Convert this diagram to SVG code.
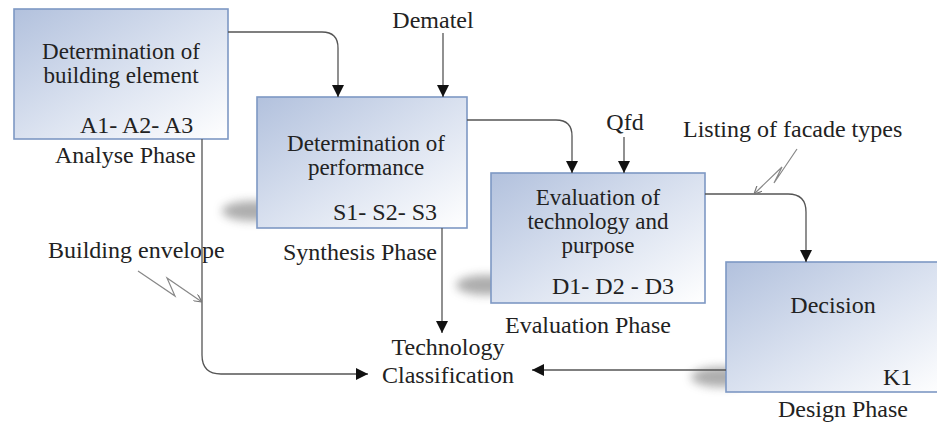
<svg xmlns="http://www.w3.org/2000/svg" width="937" height="427" viewBox="0 0 937 427">
<defs>
<linearGradient id="bx" x1="0" y1="0" x2="1" y2="1">
<stop offset="0" stop-color="#b2c1dd"/>
<stop offset="0.55" stop-color="#dde4f1"/>
<stop offset="1" stop-color="#ffffff"/>
</linearGradient>
<filter id="blur" x="-50%" y="-100%" width="200%" height="300%"><feGaussianBlur stdDeviation="5"/></filter>
<marker id="ah" markerUnits="userSpaceOnUse" markerWidth="12" markerHeight="14" refX="12" refY="6" orient="auto" viewBox="0 0 12 12">
<path d="M0,0 L12,6 L0,12 z" fill="#111"/>
</marker>
<marker id="oa" markerUnits="userSpaceOnUse" markerWidth="8" markerHeight="8" refX="8" refY="4" orient="auto" viewBox="0 0 8 8">
<path d="M0,0 L8,4 L0,8" fill="none" stroke="#777" stroke-width="1.2"/>
</marker>
</defs>
<style>
.box{fill:url(#bx);stroke:#7d98c4;stroke-width:1.6}
.sh{fill:#6a6a6a;opacity:0.55;filter:url(#blur)}
.t{font-family:"Liberation Serif","Times New Roman",serif;font-size:24px;fill:#222}
.m{font-size:23px}
.c{stroke:#555;stroke-width:1.3;fill:none}
.z{stroke:#888;stroke-width:1.2;fill:none}
</style>
<rect width="937" height="427" fill="#fff"/>

<g id="nodeA">
<rect class="box" x="14" y="9" width="214" height="130"/>
<text class="t m" x="121" y="59" text-anchor="middle">Determination of</text>
<text class="t m" x="121" y="83" text-anchor="middle">building element</text>
<text class="t" x="80" y="133">A1- A2- A3</text>
<text class="t" x="55" y="163">Analyse Phase</text>
</g>

<g id="nodeS">
<ellipse class="sh" cx="252" cy="211" rx="30" ry="10"/>
<rect class="box" x="257" y="97" width="210" height="131"/>
<text class="t m" x="366" y="151" text-anchor="middle">Determination of</text>
<text class="t m" x="366" y="175" text-anchor="middle">performance</text>
<text class="t" x="333" y="220">S1- S2- S3</text>
<text class="t" x="283" y="260">Synthesis Phase</text>
</g>

<g id="nodeD">
<ellipse class="sh" cx="486" cy="285" rx="30" ry="10"/>
<rect class="box" x="491" y="173" width="214" height="130"/>
<text class="t m" x="598" y="205" text-anchor="middle">Evaluation of</text>
<text class="t m" x="598" y="229" text-anchor="middle">technology and</text>
<text class="t m" x="598" y="253" text-anchor="middle">purpose</text>
<text class="t" x="552" y="294">D1- D2 - D3</text>
<text class="t" x="505" y="333">Evaluation Phase</text>
</g>

<g id="nodeK">
<ellipse class="sh" cx="721" cy="377" rx="30" ry="10"/>
<rect class="box" x="726" y="262" width="220" height="130"/>
<text class="t" x="833" y="313" text-anchor="middle">Decision</text>
<text class="t" x="883" y="385">K1</text>
<text class="t" x="778" y="417">Design Phase</text>
</g>

<g id="nodeT">
<text class="t" x="448" y="355" text-anchor="middle">Technology</text>
<text class="t" x="448" y="383" text-anchor="middle">Classification</text>
</g>

<g id="labels">
<text class="t" x="433" y="28" text-anchor="middle">Dematel</text>
<text class="t" x="625" y="130" text-anchor="middle">Qfd</text>
<text class="t" x="683" y="137">Listing of facade types</text>
<text class="t" x="48" y="258">Building envelope</text>
</g>

<g id="connectors">
<path class="c" d="M228,32 H322 Q338,32 338,48 V97" marker-end="url(#ah)"/>
<path class="c" d="M443,33 V97" marker-end="url(#ah)"/>
<path class="c" d="M467,120 H556 Q572,120 572,136 V173" marker-end="url(#ah)"/>
<path class="c" d="M624,137 V173" marker-end="url(#ah)"/>
<path class="c" d="M705,194 H788 Q806,194 806,212 V262" marker-end="url(#ah)"/>
<path class="c" d="M202,139 V355 Q202,374 221,374 H368" marker-end="url(#ah)"/>
<path class="c" d="M442,228 V333" marker-end="url(#ah)"/>
<path class="c" d="M726,370 H532" marker-end="url(#ah)"/>
<path class="z" d="M797,149 L774,183 L782,167 L754,194" marker-end="url(#oa)"/>
<path class="z" d="M138,271 L175,296 L167,278 L202,302" marker-end="url(#oa)"/>
</g>
</svg>
